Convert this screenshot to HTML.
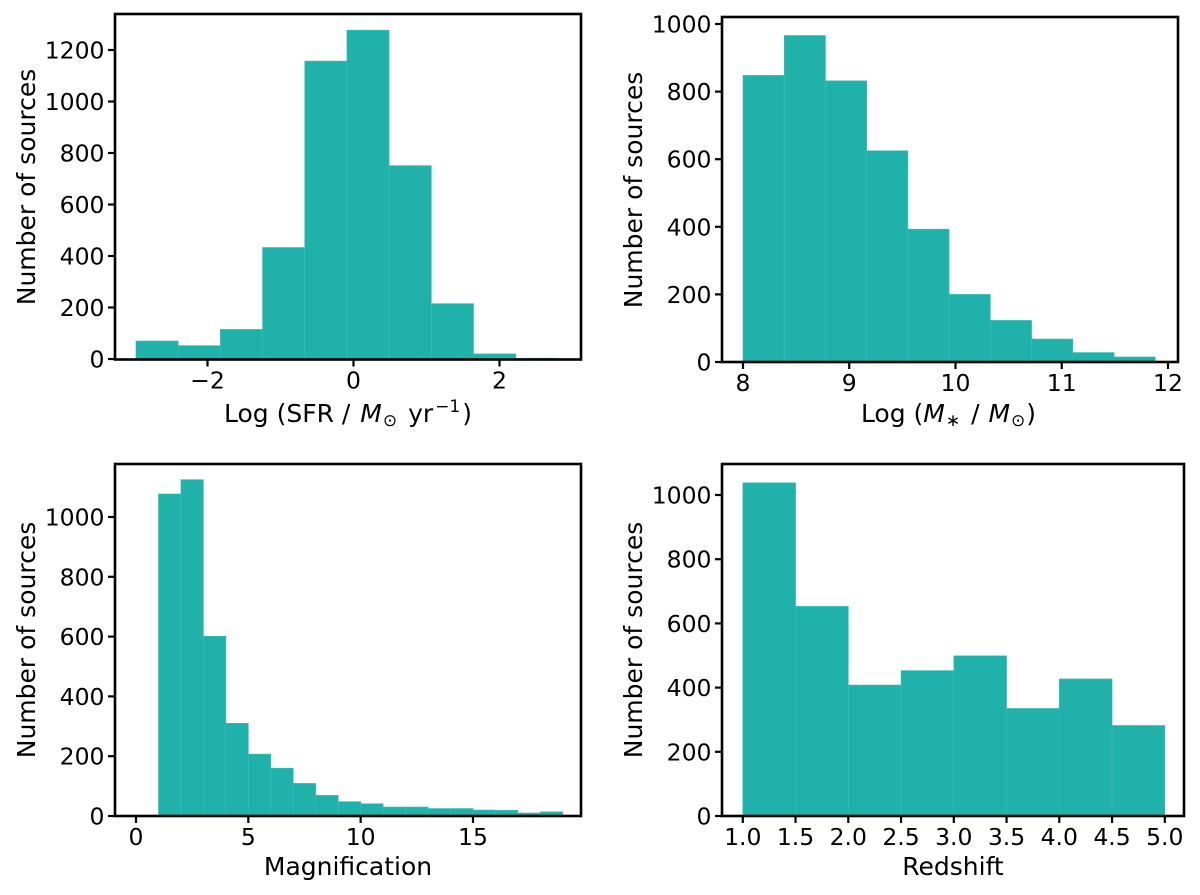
<!DOCTYPE html>
<html lang="en">
<head>
<meta charset="utf-8">
<title>Source property histograms</title>
<style>
  html, body { margin: 0; padding: 0; background: #fff; }
  svg { display: block; filter: blur(0.35px); }
  text { font-family: "DejaVu Sans", "Liberation Sans", sans-serif; fill: #000; }
</style>
</head>
<body>
<svg id="figure" xmlns="http://www.w3.org/2000/svg" width="1200" height="895" viewBox="0 0 1200 895"></svg>
<script>
// Panel 1: star formation rate
const sfrEdges = [-2.98, -2.402, -1.824, -1.246, -0.668, -0.09, 0.488, 1.066, 1.644, 2.222, 2.8];
const sfrCounts = [70, 52, 115, 433, 1157, 1277, 751, 215, 20, 3];
const sfrXTicks = [-2, 0, 2];
const sfrYTicks = [0, 200, 400, 600, 800, 1000, 1200];

// Panel 2: stellar mass
const massEdges = [8.0, 8.388, 8.776, 9.164, 9.552, 9.94, 10.328, 10.716, 11.104, 11.492, 11.88];
const massCounts = [848, 966, 832, 625, 393, 200, 123, 68, 28, 15];
const massXTicks = [8, 9, 10, 11, 12];
const massYTicks = [0, 200, 400, 600, 800, 1000];

// Panel 3: magnification
const magEdges = [1, 2, 3, 4, 5, 6, 7, 8, 9, 10, 11, 12, 13, 14, 15, 16, 17, 18, 19];
const magCounts = [1077, 1125, 601, 310, 207, 160, 109, 69, 48, 41, 30, 30, 25, 25, 20, 19, 10, 14];
const magXTicks = [0, 5, 10, 15];
const magYTicks = [0, 200, 400, 600, 800, 1000];

// Panel 4: redshift
const zEdges = [1.0, 1.5, 2.0, 2.5, 3.0, 3.5, 4.0, 4.5, 5.0];
const zCounts = [1038, 653, 408, 453, 499, 335, 427, 282];
const zXTicks = [1.0, 1.5, 2.0, 2.5, 3.0, 3.5, 4.0, 4.5, 5.0];
const zYTicks = [0, 200, 400, 600, 800, 1000];

const NS = 'http://www.w3.org/2000/svg';
const figure = document.getElementById('figure');
const BAR_FILL = '#20b2aa';
const TICK_FONT = 23.5;
const LABEL_FONT = 25;
const SMALL_FONT = 17;

function node(parent, tag, attrs) {
  const el = document.createElementNS(NS, tag);
  for (const k in attrs) el.setAttribute(k, attrs[k]);
  parent.appendChild(el);
  return el;
}

function drawPanel(cfg) {
  const g = node(figure, 'g', {});
  
  

  // axis functions: linear maps from data values to pixels
  const xScale = v => cfg.x0Px + (v - cfg.x0Val) * (cfg.x1Px - cfg.x0Px) / (cfg.x1Val - cfg.x0Val);
  const yScale = v => cfg.y0Px + (v - cfg.y0Val) * (cfg.y1Px - cfg.y0Px) / (cfg.y1Val - cfg.y0Val);

  cfg.counts.forEach((count, i) => {
    const left = xScale(cfg.edges[i]);
    const right = xScale(cfg.edges[i + 1]);
    const top = yScale(count);
    const bar = node(g, 'rect', {
      x: left, y: top, width: right - left, height: yScale(0) - top,
      fill: BAR_FILL, stroke: '#3dbdb5', 'stroke-width': 0.6
    });
    
    
  });

  const frame = node(g, 'rect', {
    x: cfg.left, y: cfg.top, width: cfg.right - cfg.left, height: cfg.bottom - cfg.top,
    fill: 'none', stroke: '#000', 'stroke-width': 2.6
  });
  
  

  cfg.xTicks.forEach(v => {
    const px = xScale(v);
    const tick = node(g, 'line', { x1: px, x2: px, y1: cfg.bottom, y2: cfg.bottom + 7, stroke: '#000', 'stroke-width': 2.2 });
    
    
    const label = node(g, 'text', { x: px, y: cfg.bottom + 29, 'text-anchor': 'middle', 'font-size': TICK_FONT });
    
    
    label.textContent = cfg.xFormat(v);
  });

  cfg.yTicks.forEach(v => {
    const py = yScale(v);
    const tick = node(g, 'line', { x1: cfg.left - 7, x2: cfg.left, y1: py, y2: py, stroke: '#000', 'stroke-width': 2.2 });
    
    
    const label = node(g, 'text', { x: cfg.left - 10.5, y: py + 8.5, 'text-anchor': 'end', 'font-size': TICK_FONT });
    
    
    label.textContent = String(v);
  });

  const yTitle = node(g, 'text', {
    transform: 'translate(' + (cfg.left - 80) + ' ' + cfg.yTitleY + ') rotate(-90)',
    'text-anchor': 'middle', 'font-size': LABEL_FONT
  });
  
  
  yTitle.textContent = 'Number of sources';

  const xTitle = node(g, 'text', { x: cfg.xTitleX, y: cfg.xTitleY, 'text-anchor': 'middle', 'font-size': LABEL_FONT });
  
  
  cfg.xTitle.forEach(part => {
    const span = node(xTitle, 'tspan', {});
    if (part.italic) span.setAttribute('font-style', 'italic');
    if (part.small) span.setAttribute('font-size', SMALL_FONT);
    if (part.dy) span.setAttribute('dy', part.dy);
    if (part.dx) span.setAttribute('dx', part.dx);
    span.textContent = part.t;
  });
}

const plain = v => String(v).replace('-', '\u2212');

drawPanel({
  name: 'sfr', edges: sfrEdges, counts: sfrCounts, xTicks: sfrXTicks, yTicks: sfrYTicks,
  left: 115, right: 581, top: 14, bottom: 359.5,
  x0Val: 0, x0Px: 353.5, x1Val: 2, x1Px: 499.5,
  y0Val: 0, y0Px: 359, y1Val: 1200, y1Px: 50,
  xFormat: plain, yTitleY: 187, xTitleX: 348, xTitleY: 422,
  xTitle: [{ t: 'Log (SFR / ' }, { t: 'M', italic: true, dx: 2 }, { t: '\u2299', small: true, dy: 4, dx: 1 }, { t: ' yr', dy: -4, dx: 3 }, { t: '\u22121', small: true, dy: -10, dx: 2 }, { t: ')', dy: 10, dx: 2 }]
});

drawPanel({
  name: 'stellar-mass', edges: massEdges, counts: massCounts, xTicks: massXTicks, yTicks: massYTicks,
  left: 722, right: 1178, top: 17, bottom: 362,
  x0Val: 8, x0Px: 743, x1Val: 12, x1Px: 1168,
  y0Val: 0, y0Px: 362, y1Val: 1000, y1Px: 24,
  xFormat: plain, yTitleY: 190, xTitleX: 948.5, xTitleY: 422,
  xTitle: [{ t: 'Log (' }, { t: 'M', italic: true }, { t: '\u2217', small: true, dy: 4, dx: 1 }, { t: ' / ', dy: -4, dx: 3 }, { t: 'M', italic: true, dx: 1 }, { t: '\u2299', small: true, dy: 4, dx: 1 }, { t: ')', dy: -4, dx: 1 }]
});

drawPanel({
  name: 'magnification', edges: magEdges, counts: magCounts, xTicks: magXTicks, yTicks: magYTicks,
  left: 115, right: 581, top: 464, bottom: 816,
  x0Val: 0, x0Px: 136, x1Val: 15, x1Px: 473,
  y0Val: 0, y0Px: 816, y1Val: 1000, y1Px: 517,
  xFormat: plain, yTitleY: 640, xTitleX: 348, xTitleY: 875,
  xTitle: [{ t: 'Magnification' }]
});

drawPanel({
  name: 'redshift', edges: zEdges, counts: zCounts, xTicks: zXTicks, yTicks: zYTicks,
  left: 722, right: 1184, top: 464, bottom: 816,
  x0Val: 1, x0Px: 742.8, x1Val: 5, x1Px: 1164.8,
  y0Val: 0, y0Px: 816, y1Val: 1000, y1Px: 495,
  xFormat: v => v.toFixed(1), yTitleY: 640, xTitleX: 953, xTitleY: 875,
  xTitle: [{ t: 'Redshift' }]
});
</script>
</body>
</html>
